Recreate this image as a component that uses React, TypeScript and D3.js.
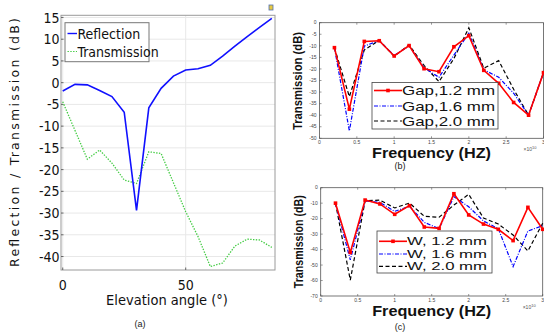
import * as d3 from "d3";

// ---- panel (a) data ----
const angles = [0, 5, 10, 15, 20, 25, 30, 35, 40, 45, 50, 55, 60, 65, 70, 75, 80, 85];
const reflection = [-1.9, -0.4, -0.5, -1.8, -3.2, -6.8, -29.4, -5.8, -1.3, 1.5, 2.9, 3.2, 4.0, 6.1, 8.4, 10.6, 12.7, 14.8];
const transmission = [-4.4, -11, -17.6, -15.5, -18.5, -22.4, -23.2, -15.9, -16.3, -23, -29.7, -35.4, -42.3, -41.5, -37.6, -36.0, -36.2, -37.9];
const yTicksA = [15, 10, 5, 0, -5, -10, -15, -20, -25, -30, -35, -40];
const xTicksA = [0, 50];

// ---- panels (b) and (c) data ----
const freq = [0.2, 0.4, 0.6, 0.8, 1.0, 1.2, 1.4, 1.6, 1.8, 2.0, 2.2, 2.4, 2.6, 2.8, 3.0];
const freqTicks = [0, 0.5, 1, 1.5, 2, 2.5, 3];
const gap12 = [-10.8, -37.4, -8.1, -7.8, -14.4, -9.9, -19.9, -21.2, -10.4, -5.6, -20.6, -26.2, -34.5, -40, -21.6];
const gap16 = [-10.8, -46.8, -10.1, -7.8, -14.2, -10, -19.5, -23.6, -14, -4.6, -20.3, -23.6, -30.5, -40, -21.6];
const gap20 = [-10.8, -32, -11.8, -7.6, -14.5, -9.6, -18.5, -25.5, -15.5, -2.2, -19.7, -16.4, -28.8, -40, -21.6];
const w12 = [-10, -41.8, -8, -10.5, -17.2, -11.6, -25.4, -26.3, -3.9, -17.6, -23.5, -26.9, -34.2, -12.7, -26.9];
const w16 = [-10, -46.7, -8.5, -9.5, -15.3, -12, -22.4, -26.5, -5.8, -12.3, -21.5, -26.5, -51, -28, -24.5];
const w20 = [-10, -59.7, -8.5, -8, -13.1, -9.9, -18.5, -19.1, -11.2, -4.3, -19.6, -23.5, -30.6, -40.9, -23];
const yTicksB = [0, -5, -10, -15, -20, -25, -30, -35, -40, -45, -50];
const yTicksC = [0, -10, -20, -30, -40, -50, -60, -70];
const gapLabels = ["Gap,1.2 mm", "Gap,1.6 mm", "Gap,2.0 mm"];
const wLabels = ["W, 1.2 mm", "W, 1.6 mm", "W, 2.0 mm"];

const NARROW = "'Liberation Sans Narrow', 'DejaVu Sans Condensed', sans-serif";
const ARIAL = "'Liberation Sans', Arial, sans-serif";

const styles = [
  { stroke: "#ff0000", dash: undefined, width: 1.6, marker: true },
  { stroke: "#0000ff", dash: "4,1.5,1,1.5", width: 1.2, marker: false },
  { stroke: "#000000", dash: "4,2.5", width: 1.2, marker: false },
];

const PanelA = () => {
  const x = d3.scaleLinear([-0.7, 86.3], [61, 275]);
  const y = d3.scaleLinear([-43.1, 15.5], [270, 15.3]);
  const line = d3
    .line<number>()
    .x((_, i) => x(angles[i]))
    .y((d) => y(d));
  return (
    <g>
      <rect x={61} y={15.3} width={214} height={254.7} fill="white" />
      {yTicksA.map((t) => (
        <line key={"g" + t} x1={61} x2={275} y1={y(t)} y2={y(t)} stroke="#e8e8e8" />
      ))}
      {xTicksA.map((t) => (
        <line key={"v" + t} x1={x(t)} x2={x(t)} y1={15.3} y2={270} stroke="#e8e8e8" />
      ))}
      <rect x={61} y={15.3} width={214} height={254.7} fill="none" stroke="#9a9a9a" />
      {yTicksA.map((t) => (
        <g key={"t" + t}>
          <line x1={61} x2={63.5} y1={y(t)} y2={y(t)} stroke="#666" />
          <text x={59.5} y={y(t)} dy="0.36em" textAnchor="end" fontFamily={NARROW} fontSize={14} fill="#111">
            {t}
          </text>
        </g>
      ))}
      {xTicksA.map((t) => (
        <g key={"x" + t}>
          <line x1={x(t)} x2={x(t)} y1={270} y2={267.5} stroke="#666" />
          <text x={x(t)} y={290} textAnchor="middle" fontFamily={NARROW} fontSize={14} fill="#111">
            {t}
          </text>
        </g>
      ))}
      <path d={line(transmission) ?? ""} fill="none" stroke="#44cc44" strokeWidth={1.3} strokeDasharray="1.4,1.4" />
      <path d={line(reflection) ?? ""} fill="none" stroke="#1010ff" strokeWidth={1.6} />
      {/* legend */}
      <rect x={65} y={22.7} width={84} height={39} fill="white" stroke="#777" />
      <line x1={67.5} x2={77} y1={33.5} y2={33.5} stroke="#1010ff" strokeWidth={1.4} />
      <text x={77.5} y={38.5} fontFamily={NARROW} fontSize={14} fill="#111">Reflection</text>
      <line x1={67.5} x2={77} y1={51.5} y2={51.5} stroke="#44cc44" strokeWidth={1} strokeDasharray="1.4,1.4" />
      <text x={77.5} y={56.5} fontFamily={NARROW} fontSize={14} fill="#111">Transmission</text>
      <rect x={269} y={5} width={4} height={5} fill="#e8c840" stroke="#5070b0" strokeWidth={0.8} />
      <text x={167} y={305} textAnchor="middle" fontFamily={NARROW} fontSize={14.5} fill="#111">
        Elevation angle (°)
      </text>
      <text
        transform="translate(18.5,142.5) rotate(-90)"
        textAnchor="middle"
        fontFamily="'DejaVu Sans', sans-serif"
        fontSize={12.5}
        textLength={249}
        lengthAdjust="spacing"
        fill="#111"
      >
        Reflection / Transmission (dB)
      </text>
      <text x={140} y={327} textAnchor="middle" fontFamily={ARIAL} fontSize={9} fill="#222">(a)</text>
    </g>
  );
};

type PanelProps = {
  box: { left: number; right: number; top: number; bottom: number };
  yDomain: [number, number];
  yTicks: number[];
  series: number[][];
  labels: string[];
  legend: { x: number; y: number; w: number; h: number; rows: number[]; textLen: number; fs: number };
  yLabel: { cx: number; cy: number; len: number };
  caption: string;
  captionY: number;
};

const FreqPanel = ({ box, yDomain, yTicks, series, labels, legend, yLabel, caption, captionY }: PanelProps) => {
  const x = d3.scaleLinear([0, 3], [box.left, box.right]);
  const y = d3.scaleLinear(yDomain, [box.bottom, box.top]);
  const line = d3
    .line<number>()
    .x((_, i) => x(freq[i]))
    .y((d) => y(d));
  const order = [2, 1, 0];
  return (
    <g>
      <rect x={box.left} y={box.top} width={box.right - box.left} height={box.bottom - box.top} fill="white" stroke="#555" strokeWidth={0.8} />
      {yTicks.map((t) => (
        <g key={"y" + t}>
          <line x1={box.left} x2={box.left + 2} y1={y(t)} y2={y(t)} stroke="#555" strokeWidth={0.6} />
          <text x={box.left - 3} y={y(t)} dy="0.35em" textAnchor="end" fontFamily={ARIAL} fontSize={5} fill="#444">
            {t}
          </text>
        </g>
      ))}
      {freqTicks.map((t) => (
        <g key={"x" + t}>
          <line x1={x(t)} x2={x(t)} y1={box.bottom} y2={box.bottom - 2} stroke="#555" strokeWidth={0.6} />
          <line x1={x(t)} x2={x(t)} y1={box.top} y2={box.top + 2} stroke="#555" strokeWidth={0.6} />
          <text x={x(t)} y={box.bottom + 6} textAnchor="middle" fontFamily={ARIAL} fontSize={5} fill="#444">
            {t}
          </text>
        </g>
      ))}
      {order.map((k) => (
        <path
          key={"s" + k}
          d={line(series[k]) ?? ""}
          fill="none"
          stroke={styles[k].stroke}
          strokeWidth={styles[k].width}
          strokeDasharray={styles[k].dash}
        />
      ))}
      {series[0].map((v, i) => (
        <rect key={"m" + i} x={x(freq[i]) - 1.8} y={y(v) - 1.8} width={3.6} height={3.6} fill="#ff0000" />
      ))}
      {/* legend */}
      <rect x={legend.x} y={legend.y} width={legend.w} height={legend.h} fill="white" stroke="#444" strokeWidth={0.8} />
      {labels.map((lab, k) => (
        <g key={lab}>
          <line
            x1={legend.x + 2}
            x2={legend.x + 30}
            y1={legend.rows[k]}
            y2={legend.rows[k]}
            stroke={styles[k].stroke}
            strokeWidth={styles[k].width}
            strokeDasharray={styles[k].dash}
          />
          {styles[k].marker && (
            <rect x={legend.x + 16 - 1.8} y={legend.rows[k] - 1.8} width={3.6} height={3.6} fill="#ff0000" />
          )}
          <text
            x={legend.x + 30}
            y={legend.rows[k]}
            dy="0.36em"
            fontFamily={ARIAL}
            fontSize={legend.fs}
            textLength={legend.textLen}
            lengthAdjust="spacingAndGlyphs"
            fill="#111"
          >
            {lab}
          </text>
        </g>
      ))}
      <text
        x={(box.left + box.right) / 2}
        y={box.bottom + 20}
        textAnchor="middle"
        fontFamily={ARIAL}
        fontWeight="bold"
        fontSize={14}
        textLength={119}
        lengthAdjust="spacingAndGlyphs"
        fill="#111"
      >
        Frequency (HZ)
      </text>
      <text x={box.right - 20} y={box.bottom + 13} fontFamily={ARIAL} fontSize={5} fill="#555">
        ×10
        <tspan dy={-2} fontSize={4}>10</tspan>
      </text>
      <text
        transform={`translate(${yLabel.cx},${yLabel.cy}) rotate(-90)`}
        textAnchor="middle"
        fontFamily={ARIAL}
        fontWeight="bold"
        fontSize={13.5}
        textLength={yLabel.len}
        lengthAdjust="spacingAndGlyphs"
        fill="#111"
      >
        Transmission (dB)
      </text>
      <text x={400} y={captionY} textAnchor="middle" fontFamily={ARIAL} fontSize={9} fill="#222">
        {caption}
      </text>
    </g>
  );
};

export default function App() {
  return (
    <svg width={544} height={332} style={{ position: "absolute", left: 0, top: 0, background: "white" }}>
      <rect width={544} height={332} fill="white" />
      <PanelA />
      <FreqPanel
        box={{ left: 319.5, right: 543.5, top: 22.7, bottom: 138.3 }}
        yDomain={[-50, 0]}
        yTicks={yTicksB}
        series={[gap12, gap16, gap20]}
        labels={gapLabels}
        legend={{ x: 372, y: 82.5, w: 126, h: 46.5, rows: [90.5, 106, 121], textLen: 93, fs: 13 }}
        yLabel={{ cx: 302, cy: 81, len: 98 }}
        caption="(b)"
        captionY={169}
      />
      <FreqPanel
        box={{ left: 320.7, right: 542.7, top: 187.7, bottom: 296 }}
        yDomain={[-70, 0]}
        yTicks={yTicksC}
        series={[w12, w16, w20]}
        labels={wLabels}
        legend={{ x: 377, y: 231, w: 115, h: 42, rows: [241.3, 254, 266.3], textLen: 80, fs: 11.5 }}
        yLabel={{ cx: 302.5, cy: 241.7, len: 93 }}
        caption="(c)"
        captionY={330}
      />
    </svg>
  );
}
